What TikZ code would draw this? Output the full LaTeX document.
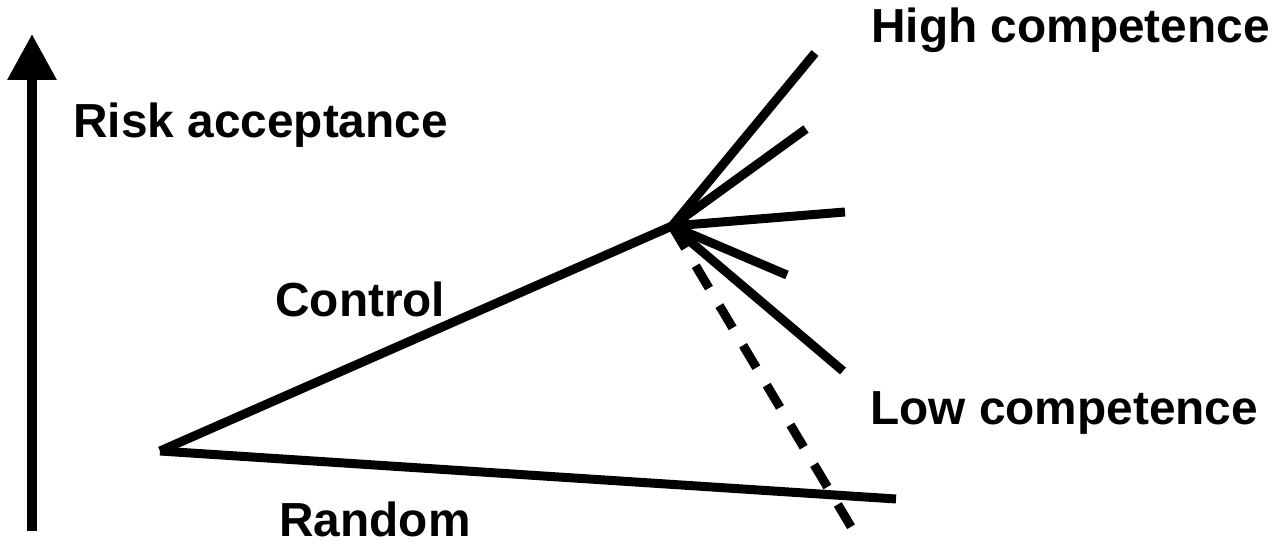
\documentclass[tikz,border=0pt]{standalone}
\usepackage{fontspec}
\setmainfont{Liberation Sans}
\usetikzlibrary{arrows.meta}
\tikzset{
    ray/.style={line width=0.18cm},
    lbl/.style={inner sep=0pt, anchor=base west, font=\bfseries\fontsize{27.2}{30}\selectfont}
}
\begin{document}
\begin{tikzpicture}[x=0.02cm, y=-0.02cm]
                \useasboundingbox (0,0) rectangle (1276,547);
                \coordinate (axisbot) at (32,531);
                \coordinate (axistop) at (32,34);
                \coordinate (start) at (160,451);
                \coordinate (hub) at (672,226);
                \coordinate (rnd) at (896,499);
                \coordinate (e1) at (815,53);
                \coordinate (e2) at (806,129);
                \coordinate (e3) at (845,212);
                \coordinate (e4) at (787,275);
                \coordinate (e5) at (843,371);
                \coordinate (dend) at (853,530);
                \draw[line width=0.19cm, -{Triangle[length=0.92cm, width=0.94cm]}] (axisbot) -- (axistop);
                \draw[ray] (start) -- (hub);
                \draw[ray] (start) -- (rnd);
                \foreach \i in {1,...,5}
                    \draw[ray] (hub) -- (e\i);
                \draw[ray, dash pattern=on 0.52cm off 0.406cm] (hub) -- (dend);
                \node[lbl] (risk) at (73,138) {Risk acceptance};
                \node[lbl] (high) at (871,43) {High competence};
                \node[lbl] (low) at (870,425) {Low competence};
                \node[lbl] (ctrl) at (275,317) {Control};
                \node[lbl] (rand) at (279,537) {Random};
            \end{tikzpicture}
\end{document}
